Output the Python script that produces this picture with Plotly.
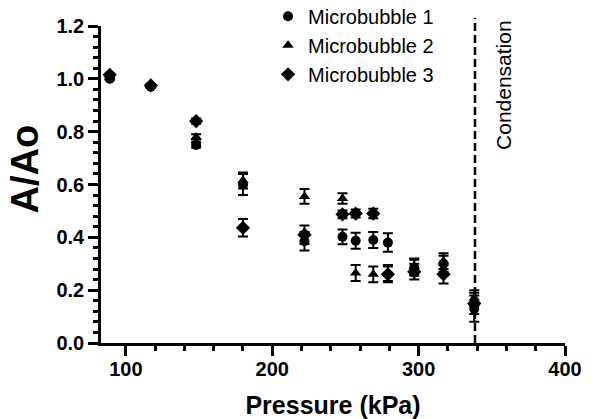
import plotly.graph_objects as go

pressure = [89, 117, 148, 180, 222, 248, 257, 269, 279, 297, 317, 338]

mb1 = [1.000, 0.970, 0.750, 0.600, 0.385, 0.402, 0.387, 0.390, 0.380, 0.285, 0.300, 0.130]
mb1_err = [0.005, 0.005, 0.010, 0.040, 0.035, 0.028, 0.030, 0.030, 0.035, 0.030, 0.030, 0.050]

mb2 = [1.005, 0.975, 0.780, 0.615, 0.555, 0.547, 0.265, 0.260, 0.265, 0.290, 0.310, 0.170]
mb2_err = [0.005, 0.005, 0.010, 0.030, 0.028, 0.020, 0.030, 0.030, 0.030, 0.030, 0.030, 0.030]

mb3 = [1.015, 0.975, 0.840, 0.436, 0.410, 0.487, 0.490, 0.490, 0.260, 0.270, 0.260, 0.150]
mb3_err = [0.005, 0.005, 0.010, 0.033, 0.035, 0.015, 0.015, 0.018, 0.030, 0.030, 0.035, 0.040]

series_names = ["Microbubble 1", "Microbubble 2", "Microbubble 3"]
condensation_p = 338.5

FONT = "Arial, Liberation Sans, sans-serif"

fig = go.Figure()
for name, ys, errs, sym, sz in [
    (series_names[0], mb1, mb1_err, "circle", 10),
    (series_names[1], mb2, mb2_err, "triangle-up", 10),
    (series_names[2], mb3, mb3_err, "diamond", 11),
]:
    fig.add_trace(go.Scatter(
        x=pressure, y=ys, mode="markers", name=name,
        marker=dict(symbol=sym, size=sz, color="black"),
        error_y=dict(type="data", array=errs, visible=True, color="black",
                     thickness=2, width=5),
    ))

fig.add_shape(type="line", xref="x", yref="paper",
              x0=condensation_p, x1=condensation_p, y0=0, y1=1.025,
              line=dict(color="black", width=2.5, dash="8px,4px"))

fig.add_annotation(x=358, y=0.975, xref="x", yref="y", text="Condensation",
                   textangle=-90, showarrow=False,
                   font=dict(family=FONT, size=21, color="black"))

# y-axis title placed as annotation for exact position
fig.add_annotation(x=-0.164, y=0.55, xref="paper", yref="paper", text="<b>A/Ao</b>",
                   textangle=-90, showarrow=False, xanchor="center", yanchor="middle",
                   font=dict(family=FONT, size=38, color="black"))

axis_common = dict(
    showline=True, linecolor="black", linewidth=2.5,
    ticks="outside", ticklen=10, tickwidth=2.5, tickcolor="black",
    showgrid=False, zeroline=False, automargin=False,
    tickfont=dict(family=FONT, size=20, color="black", weight="bold"),
)

fig.update_xaxes(
    range=[83, 400], tickvals=[100, 200, 300, 400], **axis_common,
    minor=dict(dtick=20, tick0=0, ticklen=5, tickwidth=2.5, tickcolor="black", ticks="outside"),
    title=dict(text="Pressure (kPa)", standoff=28,
               font=dict(family=FONT, size=25, color="black", weight="bold")),
    ticklabelstandoff=-4,
)
fig.update_yaxes(
    range=[0, 1.2], dtick=0.2, tickformat=".1f", **axis_common,
    minor=dict(dtick=0.04, tick0=0, ticklen=5, tickwidth=2.5, tickcolor="black", ticks="outside"),
    ticklabelstandoff=0,
)

fig.update_layout(
    width=602, height=419,
    margin=dict(l=101, r=37, t=26, b=76, autoexpand=False),
    paper_bgcolor="white", plot_bgcolor="white",
    font=dict(family=FONT, color="black"),
    legend=dict(x=0.36, y=1.092, xanchor="left", yanchor="top",
                bgcolor="rgba(0,0,0,0)",
                font=dict(family=FONT, size=20, color="black"),
                tracegroupgap=0),
)

fig.write_html("out.html")
